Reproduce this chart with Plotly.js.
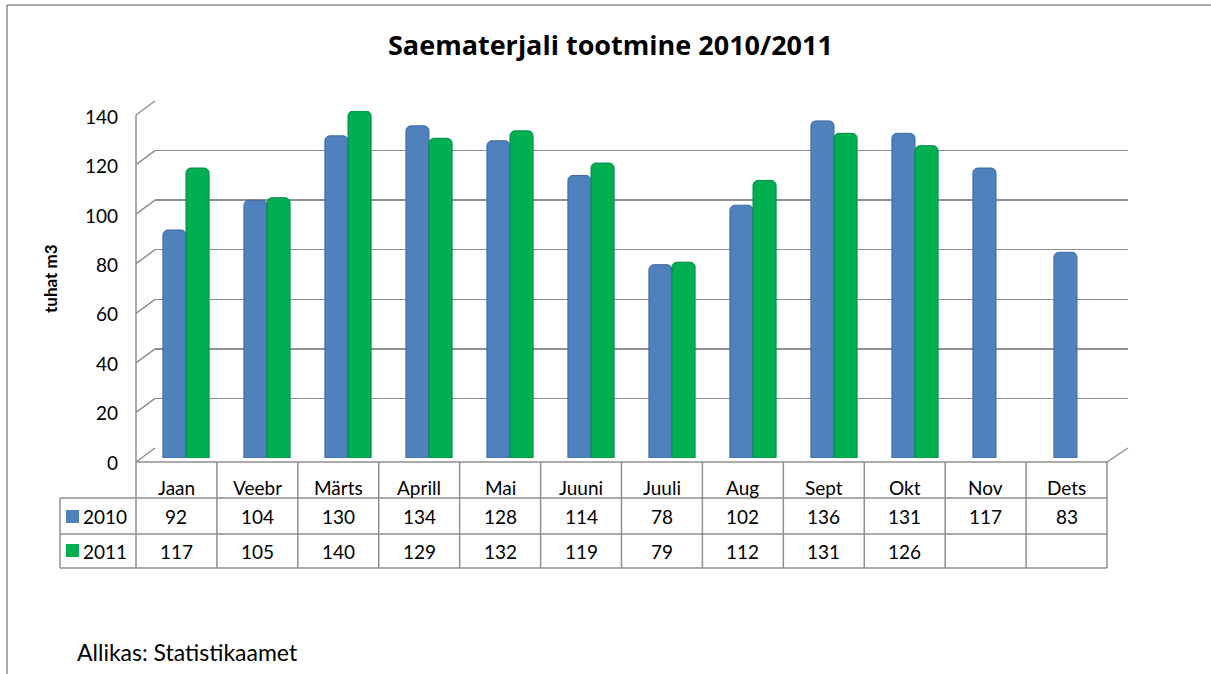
<!DOCTYPE html>
<html>
<head>
<meta charset="utf-8">
<script src="https://cdn.plot.ly/plotly-3.0.1.min.js"></script>
<style>html,body{margin:0;padding:0;background:#fff;}#chart{width:1211px;height:674px;}</style>
</head>
<body>
<div id="chart"></div>
<script>
// ---- data ----
var months = ['Jaan','Veebr','Märts','Aprill','Mai','Juuni','Juuli','Aug','Sept','Okt','Nov','Dets'];
var seriesNames = ['2010','2011'];
var v2010 = [92,104,130,134,128,114,78,102,136,131,117,83];
var v2011 = [117,105,140,129,132,119,79,112,131,126,null,null];
var yTicks = [0,20,40,60,80,100,120,140];

// ---- geometry (pixels) ----
var W = 1211, H = 674;
function px(x){ return x / W; }
function py(y){ return 1 - y / H; }
var FRONT_X0 = 136, FRONT_X1 = 1107, BACK_X0 = 155, BACK_X1 = 1128;
var FRONT_Y0 = 462, FRONT_Y140 = 115, BACK_Y0 = 448, BACK_Y140 = 101;
var BAR_Y0 = 458, BAR_Y140 = 111;
var colW = (FRONT_X1 - FRONT_X0) / months.length;
var TABLE_X0 = 60, ROW_Y = [462, 498, 534, 568];
var lineCol = '#8f8f8f';
var FONT = 'Lato, "Open Sans", sans-serif';
var blue = '#4F81BD', green = '#00B050';

function frontY(v){ return FRONT_Y0 - v * (FRONT_Y0 - FRONT_Y140) / 140; }
function backY(v){ return BACK_Y0 - v * (BACK_Y0 - BACK_Y140) / 140; }

var idx = months.map(function(_, i){ return i; });

var traces = [
  {type:'scatter', x: idx, y: v2010, mode:'none', xaxis:'x', yaxis:'y', hoverinfo:'skip', showlegend:false},
  {type:'scatter', x: idx, y: v2010, mode:'none', xaxis:'x2', yaxis:'y3', hoverinfo:'skip', showlegend:false},
  {type:'bar', name: seriesNames[0], x: idx, y: v2010, xaxis:'x2', yaxis:'y2',
   marker:{color: blue, line:{color:'#3C6A9E', width:1}}, showlegend:false, hoverinfo:'skip'},
  {type:'bar', name: seriesNames[1], x: idx, y: v2011, xaxis:'x2', yaxis:'y2',
   marker:{color: green, line:{color:'#00884A', width:1}}, showlegend:false, hoverinfo:'skip'}
];

var shapes = [];
function line(x0,y0,x1,y1,w,c){
  shapes.push({type:'line', xref:'paper', yref:'paper', x0:px(x0), y0:py(y0), x1:px(x1), y1:py(y1),
    line:{color:c||lineCol, width:w||1.5}, layer:'above'});
}
line(7,5,W+5,5,1.5,'#8c8c8c');
line(7,5,7,H+5,1.5,'#8c8c8c');
line(FRONT_X0, frontY(140), FRONT_X0, frontY(0));
yTicks.forEach(function(v){ line(FRONT_X0, frontY(v), BACK_X0, backY(v)); });
line(FRONT_X0, FRONT_Y0, FRONT_X1, FRONT_Y0);
line(FRONT_X1, FRONT_Y0, BACK_X1, BACK_Y0);
for (var k = 0; k <= months.length; k++){
  var xx = FRONT_X0 + k * colW;
  line(xx, ROW_Y[0], xx, ROW_Y[3]);
}
line(TABLE_X0, ROW_Y[1], TABLE_X0, ROW_Y[3]);
[1,2,3].forEach(function(r){ line(TABLE_X0, ROW_Y[r], FRONT_X1, ROW_Y[r]); });
shapes.push({type:'rect', xref:'paper', yref:'paper', x0:px(66), x1:px(79), y0:py(523), y1:py(510), fillcolor:blue, line:{width:0}});
shapes.push({type:'rect', xref:'paper', yref:'paper', x0:px(66), x1:px(79), y0:py(557), y1:py(544), fillcolor:green, line:{width:0}});

var annotations = [];
function txt(x, y, s, opts){
  opts = opts || {};
  annotations.push(Object.assign({xref:'paper', yref:'paper', x:px(x), y:py(y), text:s, showarrow:false,
    xanchor:'center', yanchor:'middle', font:{family:FONT, size:19, color:'#000'}}, opts));
}
months.forEach(function(m, i){
  var cx = FRONT_X0 + (i + 0.5) * colW;
  txt(cx, 487, m);
  txt(cx, 516, v2010[i] == null ? '' : String(v2010[i]));
  txt(cx, 551, v2011[i] == null ? '' : String(v2011[i]));
});
txt(81, 516, seriesNames[0], {xanchor:'left'});
txt(81, 551, seriesNames[1], {xanchor:'left'});
txt(50, 279, '<b>tuhat m3</b>', {textangle:-90, font:{family:FONT, size:17, color:'#000'}});
txt(75, 652, 'Allikas: Statistikaamet', {xanchor:'left', font:{family:FONT, size:23, color:'#000'}});
txt(610, 44, '<b>Saematerjali tootmine 2010/2011</b>', {font:{family:'"Open Sans", Lato, sans-serif', size:27, color:'#000'}});

var layout = {
  width: W, height: H,
  margin:{l:0, r:0, t:0, b:0},
  paper_bgcolor:'#fff', plot_bgcolor:'rgba(0,0,0,0)',
  showlegend:false,
  barmode:'group', bargap:0.43, bargroupgap:0, barcornerradius:5,
  xaxis:{domain:[px(BACK_X0), px(BACK_X1)], range:[-0.5, 11.5], visible:false, fixedrange:true},
  yaxis:{domain:[py(BACK_Y0), py(BACK_Y140)], range:[-0.01, 140.01], tickvals:yTicks, showgrid:true,
         gridcolor:lineCol, gridwidth:1.5, zeroline:false, showticklabels:false, ticks:'', showline:false, fixedrange:true},
  xaxis2:{domain:[px((FRONT_X0+BACK_X0)/2), px((FRONT_X1+BACK_X1)/2)], range:[-0.5, 11.5], visible:false, fixedrange:true},
  yaxis2:{domain:[py(BAR_Y0), py(BAR_Y140)], range:[0, 140], visible:false, anchor:'x2', fixedrange:true},
  yaxis3:{domain:[py(FRONT_Y0+1), py(FRONT_Y140+2)], range:[0, 140], tickvals:yTicks, anchor:'free', position:px(118),
          side:'left', showgrid:false, zeroline:false, showline:false, ticks:'',
          tickfont:{family:FONT, size:19, color:'#000'}, fixedrange:true},
  shapes: shapes,
  annotations: annotations
};

Plotly.newPlot('chart', traces, layout, {staticPlot:true, displayModeBar:false});
</script>
</body>
</html>
